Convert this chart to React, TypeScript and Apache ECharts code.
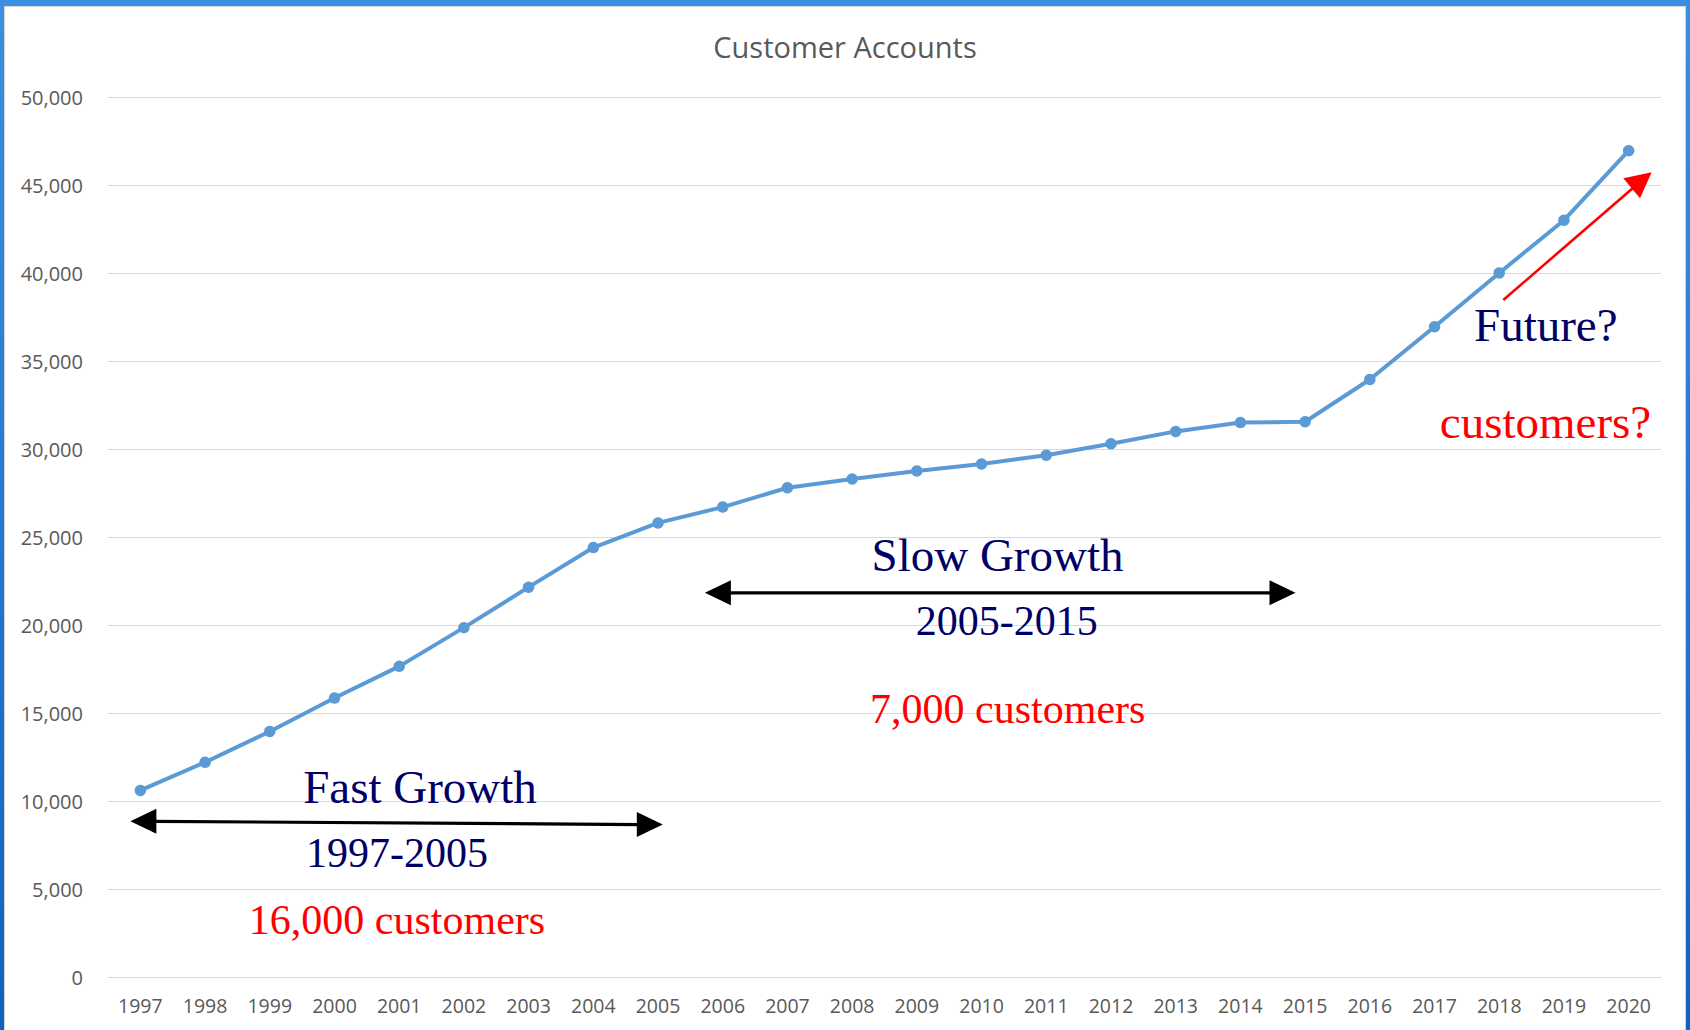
import React, { useEffect, useRef } from "react";
import * as echarts from "echarts";

const years = [
  "1997", "1998", "1999", "2000", "2001", "2002", "2003", "2004", "2005", "2006", "2007", "2008",
  "2009", "2010", "2011", "2012", "2013", "2014", "2015", "2016", "2017", "2018", "2019", "2020",
];
const accounts = [
  10600, 12200, 13950, 15850, 17650, 19850, 22150, 24400, 25800, 26700, 27800, 28300,
  28750, 29150, 29650, 30300, 31000, 31500, 31550, 33950, 36950, 40000, 43000, 46950,
];
const yMin = 0;
const yMax = 50000;
const yStep = 5000;
const titleText = "Customer Accounts";

const NAVY = "#000066";
const RED = "#ff0000";
const SERIF = '"Liberation Serif", "Times New Roman", serif';

function label(text: string, x: number, y: number, size: number, color: string) {
  return {
    type: "text",
    x,
    y,
    z: 50,
    style: {
      text,
      fill: color,
      font: `${size}px ${SERIF}`,
      textAlign: "center",
      textVerticalAlign: "middle",
    },
  };
}

function dblArrow(x1: number, y1: number, x2: number, y2: number) {
  const len = 26;
  const half = 12.5;
  return [
    {
      type: "line",
      z: 50,
      shape: { x1: x1 + len - 4, y1: y1, x2: x2 - len + 4, y2: y2 },
      style: { stroke: "#000", lineWidth: 3.2 },
    },
    {
      type: "polygon",
      z: 50,
      shape: { points: [[x1, y1], [x1 + len, y1 - half], [x1 + len, y1 + half]] },
      style: { fill: "#000" },
    },
    {
      type: "polygon",
      z: 50,
      shape: { points: [[x2, y2], [x2 - len, y2 - half], [x2 - len, y2 + half]] },
      style: { fill: "#000" },
    },
  ];
}

export default function App() {
  const ref = useRef<HTMLDivElement>(null);

  useEffect(() => {
    if (!ref.current) return;
    const chart = echarts.init(ref.current, null, { renderer: "svg" });
    chart.setOption({
      animation: false,
      backgroundColor: "#ffffff",
      title: {
        text: titleText,
        left: "center",
        top: 20,
        textStyle: {
          color: "#595959",
          fontSize: 29,
          fontWeight: "normal",
          fontFamily: '"Open Sans", sans-serif',
        },
      },
      grid: { left: 103, right: 24, top: 90, bottom: 53 },
      xAxis: {
        type: "category",
        data: years,
        boundaryGap: true,
        axisTick: { show: false },
        axisLine: { lineStyle: { color: "#D9D9D9", width: 1 } },
        axisLabel: {
          interval: 0,
          color: "#595959",
          fontSize: 19.5,
          margin: 18,
          fontFamily: '"Open Sans", sans-serif',
        },
      },
      yAxis: {
        type: "value",
        min: yMin,
        max: yMax,
        interval: yStep,
        axisLine: { show: false },
        axisTick: { show: false },
        splitLine: { lineStyle: { color: "#D9D9D9", width: 1 } },
        axisLabel: {
          color: "#595959",
          fontSize: 20,
          margin: 25,
          fontFamily: '"Open Sans", sans-serif',
          formatter: (v: number) => v.toLocaleString("en-US"),
        },
      },
      series: [
        {
          type: "line",
          data: accounts,
          symbol: "circle",
          symbolSize: 11.5,
          itemStyle: { color: "#5B9BD5" },
          lineStyle: { color: "#5B9BD5", width: 4 },
        },
      ],
      graphic: [
        label("Fast Growth", 415, 780, 47, NAVY),
        label("1997-2005", 392, 846, 42, NAVY),
        label("16,000 customers", 392, 913, 42, RED),
        ...dblArrow(125.4, 814.3, 657.8, 817.6),
        label("Slow Growth", 992.5, 548, 47, NAVY),
        label("2005-2015", 1001.7, 613.5, 42, NAVY),
        label("7,000 customers", 1002.7, 702, 42, RED),
        ...dblArrow(699.9, 585.8, 1290.5, 585.8),
        label("Future?", 1540.8, 318, 47, NAVY),
        label("customers?", 1540.5, 415, 47, RED),
        {
          type: "line",
          z: 50,
          shape: { x1: 1498.3, y1: 293, x2: 1628, y2: 181 },
          style: { stroke: RED, lineWidth: 2.6 },
        },
        {
          type: "polygon",
          z: 50,
          shape: { points: [[1646.7, 165.3], [1618.3, 171.3], [1635, 191.3]] },
          style: { fill: RED },
        },
      ],
    });
    return () => chart.dispose();
  }, []);

  return (
    <div
      style={{
        position: "fixed",
        left: 0,
        top: 0,
        width: 1690,
        height: 1030,
        overflow: "hidden",
        background: "linear-gradient(180deg, #3b8fe0 0%, #2579d3 50%, #1262bd 100%)",
      }}
    >
      <div
        style={{
          position: "absolute",
          left: 4,
          top: 6,
          width: 1682,
          height: 1030,
          boxSizing: "border-box",
          border: "1px solid #d4d4d4",
          background: "#ffffff",
        }}
      >
        <div
          ref={ref}
          style={{ position: "absolute", left: 0, top: 0, width: 1680, height: 1023 }}
        />
      </div>
    </div>
  );
}
